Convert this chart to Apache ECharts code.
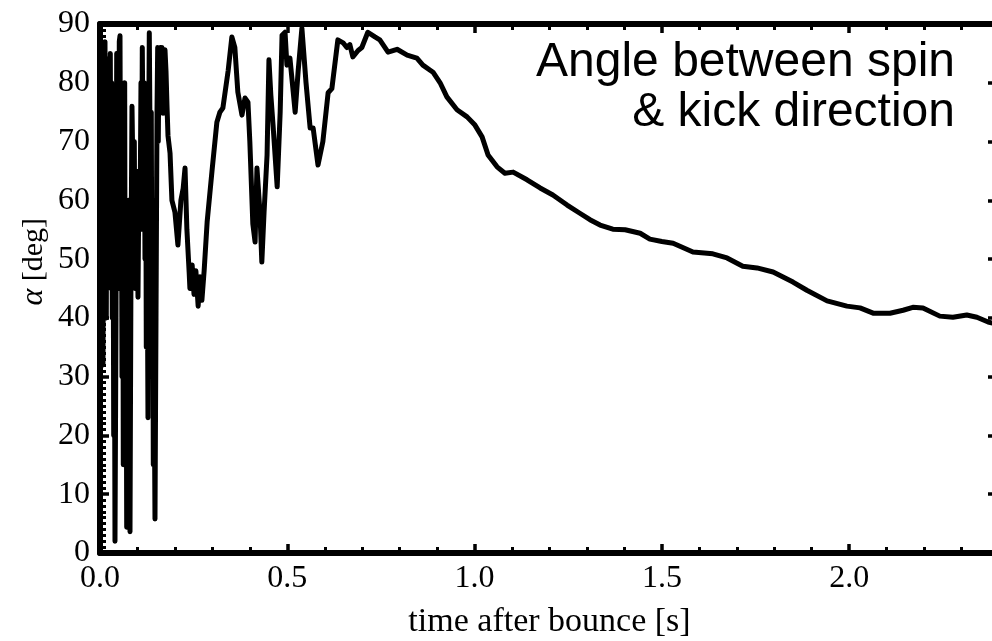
<!DOCTYPE html>
<html>
<head>
<meta charset="utf-8">
<title>Angle between spin and kick direction</title>
<script src="https://cdn.jsdelivr.net/npm/echarts@6/dist/echarts.min.js"></script>
<style>
  html, body { margin: 0; padding: 0; background: #ffffff; }
  #chart { width: 992px; height: 641px; }
</style>
</head>
<body>
<div id="chart"></div>
<script>
// time after bounce [s]
const times = [
  0.0000, 0.0019, 0.0035, 0.0053, 0.0080, 0.0099, 0.0115, 0.0133, 0.0152, 0.0168,
  0.0187, 0.0206, 0.0222, 0.0240, 0.0259, 0.0275, 0.0294, 0.0312, 0.0328, 0.0347,
  0.0366, 0.0382, 0.0400, 0.0427, 0.0446, 0.0462, 0.0481, 0.0499, 0.0515, 0.0534,
  0.0553, 0.0569, 0.0587, 0.0606, 0.0622, 0.0641, 0.0659, 0.0675, 0.0694, 0.0713,
  0.0729, 0.0747, 0.0766, 0.0782, 0.0801, 0.0828, 0.0854, 0.0881, 0.0900, 0.0916,
  0.0934, 0.0953, 0.0969, 0.0988, 0.1014, 0.1041, 0.1068, 0.1094, 0.1113, 0.1129,
  0.1148, 0.1167, 0.1183, 0.1201, 0.1220, 0.1236, 0.1255, 0.1281, 0.1300, 0.1316,
  0.1335, 0.1353, 0.1369, 0.1388, 0.1407, 0.1423, 0.1442, 0.1468, 0.1495, 0.1522,
  0.1540, 0.1556, 0.1575, 0.1594, 0.1610, 0.1628, 0.1655, 0.1682, 0.1708, 0.1735,
  0.1762, 0.1789, 0.1815, 0.187, 0.192, 0.200, 0.208, 0.216, 0.222, 0.227,
  0.232, 0.238, 0.240, 0.246, 0.251, 0.256, 0.262, 0.267, 0.272, 0.278,
  0.286, 0.299, 0.312, 0.320, 0.328, 0.342, 0.352, 0.360, 0.368, 0.379,
  0.387, 0.395, 0.400, 0.408, 0.414, 0.419, 0.427, 0.432, 0.438, 0.446,
  0.451, 0.456, 0.462, 0.473, 0.481, 0.486, 0.494, 0.499, 0.507, 0.515,
  0.521, 0.529, 0.539, 0.550, 0.561, 0.569, 0.582, 0.595, 0.609, 0.619,
  0.635, 0.649, 0.659, 0.667, 0.675, 0.689, 0.699, 0.715, 0.734, 0.747,
  0.769, 0.793, 0.820, 0.846, 0.862, 0.889, 0.908, 0.926, 0.953, 0.980,
  1.001, 1.020, 1.036, 1.060, 1.081, 1.103, 1.140, 1.175, 1.209, 1.247,
  1.281, 1.308, 1.335, 1.369, 1.402, 1.442, 1.468, 1.500, 1.530, 1.583,
  1.636, 1.674, 1.716, 1.754, 1.797, 1.850, 1.887, 1.941, 1.994, 2.029,
  2.064, 2.109, 2.144, 2.170, 2.197, 2.242, 2.277, 2.314, 2.341, 2.371,
  2.389
];

// angle alpha between spin and kick direction [deg]
const angles = [
  88.0, 60.0, 86.0, 50.0, 32.0, 70.0, 80.0, 87.0, 55.0, 40.0,
  80.0, 84.0, 50.0, 82.0, 60.0, 85.0, 45.0, 80.0, 40.0, 70.0,
  20.0, 50.0,  2.0, 40.0, 85.0, 55.0, 80.0, 45.0, 87.0, 88.0,
  50.0, 75.0, 30.0, 70.0, 15.0, 60.0, 80.0, 20.0, 50.0,  4.4,
  45.0, 20.0, 60.0, 30.0,  3.6, 50.0, 76.0, 76.0, 55.0, 70.0,
  45.0, 65.0, 50.0, 60.0, 43.5, 65.0, 55.0, 80.0, 60.0, 86.0,
  86.0, 55.0, 80.0, 50.0, 75.0, 35.0, 60.0, 23.0, 70.0, 88.5,
  88.5, 55.0, 75.0, 35.0, 60.0, 15.0, 35.0,  5.8, 40.0, 75.0,
  86.0, 70.0, 85.5, 75.0, 86.0, 80.0, 86.0, 74.8, 80.0, 85.6,
  82.0, 76.0, 71.0, 68.0, 60.0, 58.0, 52.4, 60.0, 62.0, 65.5,
  55.0, 47.8, 45.0, 49.0, 44.0, 48.0, 42.0, 47.0, 43.0, 48.0,
  56.3, 65.0, 73.3, 75.0, 75.7, 82.0, 87.8, 86.0, 78.4, 74.5,
  77.4, 76.7, 70.0, 56.0, 52.9, 65.5, 58.0, 49.5, 58.0, 67.7,
  83.9, 78.0, 72.8, 62.3, 75.0, 88.1, 88.6, 83.0, 84.2, 79.0,
  75.0, 82.0, 89.3, 80.0, 72.3, 72.3, 66.0, 70.0, 78.3, 79.0,
  87.3, 86.8, 86.0, 86.5, 84.4, 85.5, 86.0, 88.6, 87.8, 87.3,
  85.2, 85.7, 84.7, 84.2, 83.0, 81.8, 80.0, 77.6, 75.4, 74.2,
  72.8, 70.8, 67.7, 65.7, 64.6, 64.8, 63.5, 62.1, 60.9, 59.2,
  57.8, 56.7, 55.8, 55.1, 55.0, 54.4, 53.4, 53.0, 52.7, 51.2,
  50.9, 50.2, 48.8, 48.5, 47.8, 46.1, 44.7, 42.9, 42.0, 41.7,
  40.8, 40.8, 41.3, 41.8, 41.7, 40.3, 40.1, 40.5, 40.1, 39.3,
  39.0
];

const xRange = [0, 2.4];
const yRange = [0, 90];
const xStep = 0.5;
const yStep = 10;

const annotationLines = ['Angle between spin', '& kick direction'];
const xTitle = 'time after bounce [s]';

const serifFont = '"Liberation Serif", "DejaVu Serif", serif';
const sansFont = '"Liberation Sans", Arial, sans-serif';
const ink = '#000000';

const chart = echarts.init(document.getElementById('chart'), null, { renderer: 'canvas' });

// shared frame styling: thick black box with inward ticks on all four sides
function frameAxis(extra, tickLen) {
  return Object.assign({
    type: 'value',
    axisLine: { show: true, onZero: false, lineStyle: { color: ink, width: 6 } },
    axisTick: { show: true, inside: true, length: tickLen || 9, lineStyle: { color: ink, width: 3.5 } },
    splitLine: { show: false },
    minorSplitLine: { show: false }
  }, extra);
}

const option = {
  backgroundColor: '#ffffff',
  animation: false,
  // the frame runs a little past the right edge of the canvas
  grid: { left: 100, right: -7, top: 24, bottom: 88, containLabel: false, outerBoundsMode: 'none' },
  xAxis: [
    frameAxis({
      position: 'bottom',
      min: xRange[0], max: xRange[1], interval: xStep,
      minorTick: { show: true, splitNumber: 5, length: 6, lineStyle: { color: ink, width: 3 } },
      axisLabel: {
        show: true, margin: 10, showMaxLabel: false,
        color: ink, fontFamily: serifFont, fontSize: 32,
        formatter: v => v.toFixed(1)
      },
      name: xTitle,
      nameLocation: 'middle',
      nameGap: 52,
      nameTextStyle: { color: ink, fontFamily: serifFont, fontSize: 34 }
    }),
    frameAxis({
      position: 'top',
      min: xRange[0], max: xRange[1], interval: xStep,
      minorTick: { show: true, splitNumber: 5, length: 6, lineStyle: { color: ink, width: 3 } },
      axisLabel: { show: false }
    })
  ],
  yAxis: [
    frameAxis({
      position: 'left',
      min: yRange[0], max: yRange[1], interval: yStep,
      minorTick: { show: true, splitNumber: 10, length: 6, lineStyle: { color: ink, width: 3 } },
      axisLabel: {
        show: true, margin: 10,
        color: ink, fontFamily: serifFont, fontSize: 32
      }
    }),
    frameAxis({
      position: 'right',
      min: yRange[0], max: yRange[1], interval: yStep,
      minorTick: { show: true, splitNumber: 10, length: 6, lineStyle: { color: ink, width: 3 } },
      axisLabel: { show: false }
    }, 11)
  ],
  graphic: [
    {
      type: 'text',
      left: 18, top: 218,
      rotation: Math.PI / 2,
      style: {
        text: '{a|α} [deg]',
        fill: ink,
        font: '30px ' + serifFont,
        rich: { a: { fontStyle: 'italic', fontFamily: serifFont, fontSize: 32, fill: ink } }
      }
    },
    {
      type: 'text',
      x: 955, y: 63,
      style: {
        text: annotationLines[0],
        fill: ink,
        font: '48px ' + sansFont,
        align: 'right',
        verticalAlign: 'middle'
      }
    },
    {
      type: 'text',
      x: 955, y: 113,
      style: {
        text: annotationLines[1],
        fill: ink,
        font: '48px ' + sansFont,
        align: 'right',
        verticalAlign: 'middle'
      }
    }
  ],
  series: [
    {
      type: 'line',
      xAxisIndex: 0,
      yAxisIndex: 0,
      data: times.map((t, i) => [t, angles[i]]),
      showSymbol: false,
      symbol: 'none',
      smooth: false,
      clip: true,
      lineStyle: { color: ink, width: 5, join: 'round', cap: 'round' },
      emphasis: { disabled: true }
    }
  ]
};

chart.setOption(option);
</script>
</body>
</html>
